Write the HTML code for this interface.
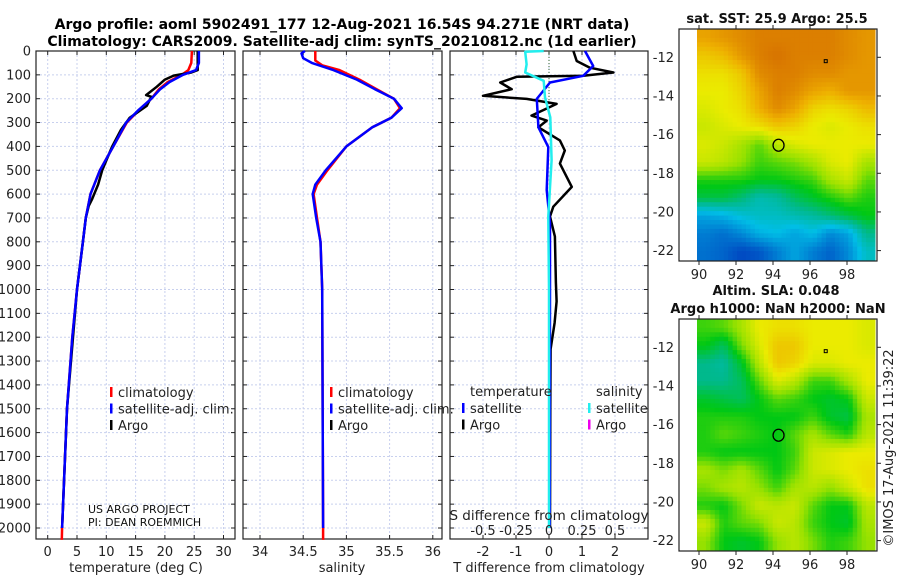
<!DOCTYPE html>
<html><head><meta charset="utf-8"><style>
body{margin:0;background:#fff;}
svg{display:block;font-family:"DejaVu Sans","Liberation Sans",sans-serif;}
</style></head><body>
<svg id="fig" width="900" height="580" viewBox="0 0 900 580" xmlns="http://www.w3.org/2000/svg">
<g font-weight="bold" font-size="14" text-anchor="middle">
<text x="342" y="29">Argo profile: aoml 5902491_177 12-Aug-2021 16.54S 94.271E (NRT data)</text>
<text x="342" y="46">Climatology: CARS2009. Satellite-adj clim: synTS_20210812.nc (1d earlier)</text>
</g>
</svg>
<script>
// ---- data ----
const depthTicks=[0,100,200,300,400,500,600,700,800,900,1000,1100,1200,1300,1400,1500,1600,1700,1800,1900,2000];
const tempTicks=[0,5,10,15,20,25,30];
const salTicks=[34,34.5,35,35.5,36];
const salTickLabels=["34","34.5","35","35.5","36"];
const tdiffTicks=[-2,-1,0,1,2];
const sdiffTicks=[-0.5,-0.25,0,0.25,0.5];
const sdiffTickLabels=["-0.5","-0.25","0","0.25","0.5"];
const lonTicks=[90,92,94,96,98];
const latTicks=[-12,-14,-16,-18,-20,-22];

const tClimDepth=[0,50,80,100,130,160,200,250,300,400,500,600,700,800,1000,1200,1500,2000,2050];
const tClimVal=[24.6,24.5,24.0,22.9,20.5,19.0,17.7,15.5,13.5,11.2,8.9,7.3,6.5,6.0,5.0,4.2,3.3,2.45,2.4];
const tSatDepth=[0,50,80,100,130,160,200,250,300,400,500,600,700,800,1000,1200,1500,2000];
const tSatVal=[25.8,25.8,25.3,23.1,20.8,19.2,17.7,15.4,13.4,11.2,8.9,7.3,6.5,6.0,5.0,4.2,3.3,2.45];
const tArgoDepth=[0,80,90,103,120,150,185,192,230,280,330,400,500,560,620,650,700,800,1000,1500,2000];
const tArgoVal=[25.6,25.6,24.5,21.5,20.0,18.6,16.8,17.7,16.9,14.0,12.5,11.0,9.3,8.6,7.6,7.0,6.5,6.0,5.0,3.3,2.45];

const sClimDepth=[0,40,60,80,120,160,200,240,280,320,400,500,560,600,700,800,1000,2000,2050];
const sClimVal=[34.64,34.64,34.72,34.92,35.15,35.35,35.55,35.62,35.52,35.3,35.0,34.78,34.66,34.62,34.66,34.7,34.72,34.73,34.73];
const sSatDepth=[0,10,30,50,80,120,160,200,240,280,320,400,500,560,600,700,800,1000,2000];
const sSatVal=[34.52,34.48,34.5,34.6,34.85,35.12,35.33,35.55,35.64,35.52,35.3,35.0,34.76,34.64,34.61,34.65,34.7,34.72,34.73];

const dTArgoDepth=[0,42,70,90,104,108,132,160,188,201,222,271,292,320,375,417,472,570,653,694,778,972,1050,1140,1250,1500,2000];
const dTArgoVal=[0.74,0.84,1.24,1.95,1.04,-0.98,-1.48,-1.13,-2.0,-0.68,0.23,-0.53,-0.07,-0.32,0.33,0.48,0.33,0.69,0.13,0.03,0.18,0.21,0.23,0.17,0.05,0.04,0.03];
const dTSatDepth=[0,63,104,132,201,320,403,583,722,972,2000];
const dTSatVal=[1.09,1.34,1.04,0.03,-0.37,-0.32,-0.02,-0.07,0.03,0.03,0.02];
const dSSatDepth=[0,3,56,90,125,194,278,458,694,1000,2000];
const dSSatVal=[-0.04,-0.18,-0.17,-0.18,-0.04,-0.03,0.01,0.02,-0.005,0.0,0.0];

const sstGrid=[
[3.6,3.7,3.8,3.9,3.9,3.9,3.9,3.9,3.8,3.7],
[3.3,3.4,3.7,3.9,4.0,3.9,3.9,3.9,3.8,3.7],
[3.1,3.1,3.3,3.8,3.9,3.9,3.8,3.8,3.7,3.7],
[3.0,3.0,3.2,3.6,3.9,3.8,3.6,3.5,3.7,3.7],
[2.9,3.0,3.1,3.5,3.8,3.6,3.2,3.1,3.2,3.4],
[2.8,2.9,3.0,3.1,3.3,3.2,3.0,2.9,3.0,3.1],
[2.9,2.8,2.6,2.3,2.7,2.9,3.0,3.0,3.0,3.0],
[2.8,2.7,2.5,2.2,2.3,2.4,2.6,2.9,3.0,2.6],
[2.1,2.1,2.1,2.0,2.0,2.1,2.2,2.6,2.8,2.3],
[1.8,1.8,1.6,1.3,1.4,1.7,1.9,2.1,2.3,2.1],
[0.8,0.9,1.1,1.2,1.2,1.3,1.4,1.6,1.8,2.0],
[0.5,0.4,0.6,0.9,1.0,0.8,1.0,0.6,0.8,1.5],
[0.4,0.3,0.1,0.2,0.5,0.8,0.5,0.3,0.6,1.2]];
const slaGrid=[
[2.2,2.3,2.6,3.0,3.1,3.1,3.0,3.0,3.0,2.9],
[2.0,1.7,2.4,2.9,3.3,3.3,3.0,3.0,3.0,2.9],
[1.5,1.4,1.9,2.7,3.3,3.2,2.9,2.9,3.0,3.0],
[1.5,1.5,1.7,2.3,2.9,2.7,2.2,2.2,2.6,3.0],
[1.9,1.8,1.7,2.0,2.3,2.2,2.0,1.9,2.0,2.8],
[2.1,2.1,2.1,2.0,2.0,2.0,2.2,1.9,1.8,2.6],
[2.1,2.3,2.2,2.1,2.0,2.3,2.6,2.3,2.1,2.7],
[2.1,2.0,2.0,2.0,2.0,2.2,2.8,2.9,3.0,3.0],
[2.6,2.4,2.6,2.3,2.0,2.3,2.8,2.9,3.0,3.1],
[2.4,2.6,2.7,2.5,2.2,2.6,2.7,2.5,2.8,3.1],
[2.1,2.0,2.4,2.8,2.7,2.8,2.3,2.0,2.0,2.7],
[2.8,2.1,2.3,2.4,2.8,2.7,2.2,2.0,1.9,2.6],
[2.5,2.0,1.9,2.0,2.5,2.7,2.4,2.1,2.2,2.5]];
const floatLon=94.3, floatLat=-16.55;

// ---- drawing ----
const NS="http://www.w3.org/2000/svg";
const svg=document.getElementById('fig');
function mk(tag,attrs,parent){const e=document.createElementNS(NS,tag);for(const k in attrs)e.setAttribute(k,attrs[k]);(parent||svg).appendChild(e);return e;}
function txt(s,attrs,parent){const e=mk('text',attrs,parent);e.textContent=s;return e;}
const Y0=51, Y1=539;
const yD=d=>Y0+d*0.2385;

function panel(name,x0,x1,xs,xt,xl,showY){
  const g=mk('g',{});
  
  
  depthTicks.forEach(d=>{mk('line',{x1:x0,x2:x1,y1:yD(d),y2:yD(d),stroke:'#c8d0ee','stroke-width':1,'stroke-dasharray':'2,2'},g);
    mk('line',{x1:x0,x2:x0+4,y1:yD(d),y2:yD(d),stroke:'#222'},g);mk('line',{x1:x1-4,x2:x1,y1:yD(d),y2:yD(d),stroke:'#222'},g);
    if(showY){txt(String(d),{x:x0-5,y:yD(d)+4.5,'font-size':13,'text-anchor':'end',fill:'#222'},g);}});
  xt.forEach((v,i)=>{const X=xs(v);mk('line',{x1:X,x2:X,y1:Y0,y2:Y1,stroke:'#c8d0ee','stroke-dasharray':'2,2'},g);
    mk('line',{x1:X,x2:X,y1:Y1,y2:Y1-4,stroke:'#222'},g);mk('line',{x1:X,x2:X,y1:Y0,y2:Y0+4,stroke:'#222'},g);
    if(xl)txt(xl[i],{x:X,y:556,'font-size':13,'text-anchor':'middle',fill:'#222'},g);});
  mk('rect',{x:x0,y:Y0,width:x1-x0,height:Y1-Y0,fill:'none',stroke:'#222','stroke-width':1.2},g);
  return g;
}
function line(g,name,xs,ds,vs,color,w){
  const pts=ds.map((d,i)=>xs(vs[i]).toFixed(1)+','+yD(d).toFixed(1)).join(' ');
  const p=mk('polyline',{points:pts,fill:'none',stroke:color,'stroke-width':w||2.5,'stroke-linejoin':'round'},g);
  
  
}
function legend(g,items,x,y){
  items.forEach((it,i)=>{const yy=y+i*16.5;
    mk('rect',{x:x,y:yy-9,width:2.5,height:10,fill:it[1]},g);
    const t=txt(it[0],{x:x+8,y:yy+1,'font-size':13,fill:'#222'},g);
    
    });
}
// temperature
const xT=v=>47.7+v*5.86;
const gT=panel('temperature-panel',36,235,xT,tempTicks,tempTicks.map(String),true);
line(gT,'temp-climatology-line',xT,tClimDepth,tClimVal,'#f00');
line(gT,'temp-argo-line',xT,tArgoDepth,tArgoVal,'#000');
line(gT,'temp-satellite-line',xT,tSatDepth,tSatVal,'#00f');
legend(gT,[['climatology','#f00'],['satellite-adj. clim.','#00f'],['Argo','#000']],110,396);
txt('US ARGO PROJECT',{x:88,y:513,'font-size':11,fill:'#111'},gT);
txt('PI: DEAN ROEMMICH',{x:88,y:526,'font-size':11,fill:'#111'},gT);
const tx1=txt('temperature (deg C)',{x:136,y:572,'font-size':13,'text-anchor':'middle',fill:'#222'});


// salinity
const xS=v=>260+(v-34)*86.4;
const gS=panel('salinity-panel',243,442,xS,salTicks,salTickLabels,false);
line(gS,'sal-climatology-line',xS,sClimDepth,sClimVal,'#f00');
line(gS,'sal-satellite-line',xS,sSatDepth,sSatVal,'#00f');
legend(gS,[['climatology','#f00'],['satellite-adj. clim.','#00f'],['Argo','#000']],330,396);
const tx2=txt('salinity',{x:342,y:572,'font-size':13,'text-anchor':'middle',fill:'#222'});


// difference
const xDT=v=>549+v*33;
const xDS=v=>549+v*132;
const gD=panel('difference-panel',450,648,xDT,tdiffTicks,tdiffTicks.map(String),false);
mk('line',{x1:549,x2:549,y1:Y0,y2:yD(220),stroke:'#363','stroke-dasharray':'1,2'},gD);
line(gD,'tdiff-argo-line',xDT,dTArgoDepth,dTArgoVal,'#000');
line(gD,'tdiff-satellite-line',xDT,dTSatDepth,dTSatVal,'#00f');
line(gD,'sdiff-satellite-line',xDS,dSSatDepth,dSSatVal,'#2ee');
txt('temperature',{x:470,y:396,'font-size':13,fill:'#222'},gD);
txt('salinity',{x:596,y:396,'font-size':13,fill:'#222'},gD);
legend(gD,[['satellite','#00f'],['Argo','#000']],462,412);
legend(gD,[['satellite','#2ee'],['Argo','#e0e']],588,412);
txt('S difference from climatology',{x:549,y:520,'font-size':13.5,'text-anchor':'middle',fill:'#222'},gD);
sdiffTicks.forEach((v,i)=>{txt(sdiffTickLabels[i],{x:xDS(v),y:535,'font-size':13,'text-anchor':'middle',fill:'#222'},gD);});
const tx3=txt('T difference from climatology',{x:549,y:572,'font-size':13,'text-anchor':'middle',fill:'#222'});



// maps
const stops=[[0,[0,60,190]],[1,[0,190,230]],[1.5,[0,185,140]],[2,[0,200,20]],[2.5,[150,225,0]],[3,[235,235,0]],[3.5,[238,175,0]],[4,[215,115,0]]];
function cmap(v){for(let i=1;i<stops.length;i++){if(v<=stops[i][0]){const a=stops[i-1],b=stops[i];const t=(v-a[0])/(b[0]-a[0]);
  return 'rgb('+a[1].map((c,k)=>Math.round(c+(b[1][k]-c)*t)).join(',')+')';}}return 'rgb(215,115,0)';}
function sample(grid,r,c){const nr=grid.length,nc=grid[0].length;
  r=Math.max(0,Math.min(nr-1,r));c=Math.max(0,Math.min(nc-1,c));
  const r0=Math.floor(r),c0=Math.floor(c),r1=Math.min(nr-1,r0+1),c1=Math.min(nc-1,c0+1),fr=r-r0,fc=c-c0;
  return grid[r0][c0]*(1-fr)*(1-fc)+grid[r0][c1]*(1-fr)*fc+grid[r1][c0]*fr*(1-fc)+grid[r1][c1]*fr*fc;}
function mapPanel(name,grid,top,latM12){
  const g=mk('g',{});
  
  
  const lonX=l=>699+(l-90)*18.5, latY=l=>latM12+(-12-l)*19.33;
  const ix0=697,ix1=875,iy0=top,iy1=top+231;
  const nr=grid.length,nc=grid[0].length,F=4,NR=nr*F,NC=nc*F,cw=(ix1-ix0)/NC,ch=(iy1-iy0)/NR;
  for(let r=0;r<NR;r++)for(let c=0;c<NC;c++){
    const v=sample(grid,(r+0.5)/F-0.5,(c+0.5)/F-0.5);
    const cell=mk('rect',{x:(ix0+c*cw).toFixed(2),y:(iy0+r*ch).toFixed(2),width:(cw+0.5).toFixed(2),height:(ch+0.5).toFixed(2),fill:cmap(v)},g);
    
    }
  mk('rect',{x:679,y:top,width:198,height:232,fill:'none',stroke:'#222','stroke-width':1.2},g);
  lonTicks.forEach(l=>{const X=lonX(l);mk('line',{x1:X,x2:X,y1:top+232,y2:top+236,stroke:'#222'},g);mk('line',{x1:X,x2:X,y1:top,y2:top-4,stroke:'#222'},g);
    txt(String(l),{x:X,y:top+250,'font-size':13,'text-anchor':'middle',fill:'#222'},g);});
  latTicks.forEach(l=>{const Y=latY(l);mk('line',{x1:877,x2:881,y1:Y,y2:Y,stroke:'#222'},g);
    txt(String(l),{x:674,y:Y+4.5,'font-size':13,'text-anchor':'end',fill:'#222'},g);});
  const m=mk('ellipse',{cx:lonX(floatLon),cy:latY(floatLat),rx:5.5,ry:6,fill:'none',stroke:'#000','stroke-width':1.3},g);
  
  
  mk('rect',{x:lonX(96.85)-1.5,y:latY(-12.2)-1.5,width:3,height:3,fill:'none',stroke:'#000','stroke-width':1},g);
  return g;
}
mapPanel('sst-map',sstGrid,29,57.3);
mapPanel('sla-map',slaGrid,319,347.3);
const mt=[['sat. SST: 25.9 Argo: 25.5',777,23,'sst-map-title'],['Altim. SLA: 0.048',776,295,'sla-map-title'],['Argo h1000: NaN h2000: NaN',778,313,'sla-map-subtitle']];
mt.forEach(a=>{const t=txt(a[0],{x:a[1],y:a[2],'font-size':13,'font-weight':'bold','text-anchor':'middle',fill:'#111'});
  
  });
const cp=txt('©IMOS 17-Aug-2021 11:39:22',{x:0,y:0,'font-size':13,'text-anchor':'middle',fill:'#222',transform:'translate(893,448) rotate(-90)'});


</script>
</body></html>
